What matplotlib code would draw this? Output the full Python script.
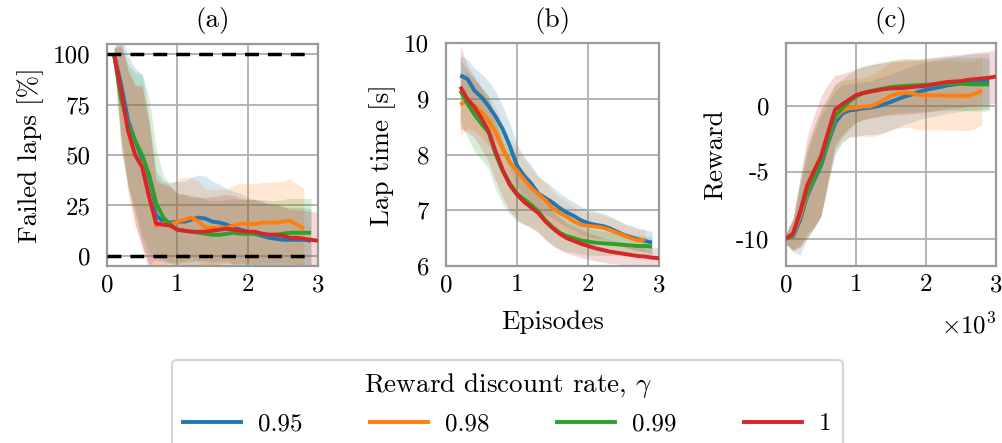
import numpy as np
import matplotlib
matplotlib.use("Agg")
import matplotlib.pyplot as plt
from matplotlib.lines import Line2D

plt.rcParams.update({
    "font.family": "cmr10",
    "mathtext.fontset": "cm",
    "axes.unicode_minus": False,
    "font.size": 18,
})

gammas = ["0.95", "0.98", "0.99", "1"]
colors = ["#1f77b4", "#ff7f0e", "#2ca02c", "#d62728"]

# ---- (a) failed laps [%] ----
fail_x = [np.round(np.arange(0.1, 3.0, 0.1), 1),
          np.round(np.arange(0.1, 2.9, 0.1), 1),
          np.round(np.arange(0.1, 3.0, 0.1), 1),
          np.round(np.arange(0.1, 3.05, 0.1), 1)]
fail_mean = [
    [100, 85, 67, 57, 48, 32, 20, 17, 16.5, 17, 17, 18, 19, 18.5, 17, 16.5, 15.5, 14, 13,
     12, 11, 10, 9, 8.5, 8, 8, 8, 8, 7.5],
    [100, 80, 62, 50, 45, 30, 15, 16, 15.5, 17, 18, 19, 17, 14, 14, 14, 14, 15, 16,
     16, 15.7, 16.5, 16.5, 16.5, 17, 17.5, 15.5, 13.5],
    [100, 78, 65, 57, 50, 40, 26, 19, 15.5, 13, 12.5, 12, 11.5, 11, 10.5, 10.5, 11, 11.5, 11,
     11, 11, 11, 10.5, 10.5, 11, 11.5, 11.5, 11.5, 11.5],
    [100, 82, 62, 50, 44, 29, 16, 15.5, 15, 13, 12.5, 12, 12, 12, 12.5, 13, 13.5, 13, 12.5,
     12, 12, 11, 10.5, 10.5, 10, 9, 9, 8.5, 8, 7.5],
]
fail_std = [
    [3, 25, 32, 36, 42, 36, 22, 20, 20, 20, 20, 21, 21, 21, 20, 19, 18, 18, 18,
     17, 17, 17, 17, 17, 16, 16, 16, 16, 16],
    [3, 24, 30, 35, 40, 35, 21, 20, 20, 21, 21, 20, 20, 19, 19, 19, 19, 20, 20,
     20, 20, 20, 20, 20, 20, 21, 20, 20],
    [3, 26, 30, 34, 40, 38, 27, 21, 19, 18, 18, 18, 18, 17, 17, 17, 17, 17, 17,
     17, 17, 17, 17, 17, 17, 17, 17, 17, 17],
    [3, 25, 30, 34, 40, 36, 22, 20, 19, 18, 18, 17, 17, 17, 17, 17, 17, 17, 16,
     16, 16, 16, 15, 15, 15, 14, 14, 14, 14, 14],
]

# ---- (b) lap time [s] ----
lap_x = [np.round(np.arange(0.2, 3.0, 0.1), 1),
         np.round(np.arange(0.2, 2.9, 0.1), 1),
         np.round(np.arange(0.2, 3.0, 0.1), 1),
         np.round(np.arange(0.2, 3.05, 0.1), 1)]
lap_mean = [
    [9.42, 9.36, 9.15, 9.03, 8.87, 8.68, 8.45, 8.15, 7.8, 7.62, 7.48, 7.3, 7.22, 7.14,
     7.04, 6.96, 6.9, 6.82, 6.77, 6.74, 6.72, 6.68, 6.62, 6.56, 6.52, 6.48, 6.45, 6.42],
    [8.9, 8.97, 8.88, 8.76, 8.61, 8.4, 8.1, 7.86, 7.71, 7.55, 7.4, 7.29, 7.18, 7.04,
     6.95, 6.88, 6.8, 6.74, 6.72, 6.71, 6.69, 6.65, 6.6, 6.55, 6.5, 6.46, 6.47],
    [9.15, 8.92, 8.72, 8.55, 8.4, 8.0, 7.7, 7.48, 7.3, 7.2, 7.1, 6.98, 6.82, 6.7,
     6.6, 6.54, 6.5, 6.46, 6.44, 6.42, 6.41, 6.4, 6.39, 6.38, 6.37, 6.36, 6.36, 6.35],
    [9.22, 9.0, 8.85, 8.65, 8.42, 8.05, 7.72, 7.45, 7.28, 7.15, 7.05, 6.95, 6.8, 6.68,
     6.58, 6.5, 6.45, 6.4, 6.36, 6.32, 6.29, 6.26, 6.24, 6.22, 6.2, 6.18, 6.17, 6.15, 6.14],
]
lap_std = [
    [0.35, 0.35, 0.4, 0.42, 0.45, 0.45, 0.42, 0.4, 0.38, 0.35, 0.33, 0.3, 0.3, 0.28,
     0.27, 0.26, 0.25, 0.25, 0.24, 0.24, 0.23, 0.22, 0.22, 0.21, 0.21, 0.2, 0.2, 0.2],
    [0.55, 0.5, 0.45, 0.45, 0.45, 0.45, 0.45, 0.42, 0.4, 0.37, 0.35, 0.33, 0.31, 0.3,
     0.28, 0.27, 0.26, 0.25, 0.24, 0.24, 0.23, 0.22, 0.22, 0.21, 0.21, 0.2, 0.2],
    [0.55, 0.6, 0.65, 0.65, 0.65, 0.62, 0.6, 0.55, 0.5, 0.45, 0.4, 0.37, 0.34, 0.32,
     0.3, 0.28, 0.26, 0.25, 0.24, 0.23, 0.22, 0.21, 0.2, 0.2, 0.19, 0.19, 0.18, 0.18],
    [0.75, 0.6, 0.55, 0.55, 0.55, 0.52, 0.5, 0.47, 0.44, 0.4, 0.37, 0.35, 0.33, 0.31,
     0.29, 0.27, 0.26, 0.25, 0.24, 0.23, 0.22, 0.21, 0.2, 0.2, 0.19, 0.19, 0.18, 0.18, 0.18],
]

# ---- (c) reward ----
rew_x = [np.round(np.arange(0.0, 3.0, 0.1), 1),
         np.round(np.arange(0.0, 2.9, 0.1), 1),
         np.round(np.arange(0.0, 3.0, 0.1), 1),
         np.round(np.arange(0.0, 3.05, 0.1), 1)]
rew_mean = [
    [-10, -9.8, -8.6, -6.8, -5.6, -4.5, -2.8, -1.3, -0.6, -0.35, -0.3, -0.2, -0.15, -0.05,
     0.1, 0.3, 0.5, 0.7, 0.85, 1.05, 1.2, 1.3, 1.4, 1.52, 1.6, 1.68, 1.75, 1.8, 1.82, 1.85],
    [-10, -9.7, -8.3, -6.6, -5.4, -4.2, -2.6, -0.9, -0.4, -0.2, -0.15, -0.08, -0.05, 0.15,
     0.45, 0.75, 0.9, 0.98, 0.92, 0.8, 0.78, 0.78, 0.78, 0.76, 0.75, 0.75, 0.72, 0.9, 1.15],
    [-10, -9.7, -8.0, -6.5, -5.4, -4.3, -2.6, -0.8, -0.2, 0.3, 0.7, 0.95, 1.1, 1.2,
     1.3, 1.4, 1.45, 1.5, 1.52, 1.55, 1.58, 1.6, 1.62, 1.65, 1.65, 1.65, 1.62, 1.6, 1.6, 1.6],
    [-10, -9.6, -8.0, -6.0, -4.9, -3.8, -2.0, -0.3, 0.1, 0.45, 0.8, 0.95, 1.05, 1.15,
     1.25, 1.3, 1.32, 1.35, 1.4, 1.45, 1.5, 1.6, 1.7, 1.78, 1.82, 1.85, 1.95, 2.0, 2.05, 2.1, 2.2],
]
rew_std = [
    [0.4, 1.2, 2.6, 3.2, 3.6, 3.8, 3.0, 2.4, 2.2, 2.0, 2.0, 2.0, 2.0, 2.1,
     2.1, 2.1, 2.1, 2.1, 2.1, 2.1, 2.1, 2.1, 2.1, 2.1, 2.1, 2.1, 2.1, 2.1, 2.1, 2.1],
    [0.4, 1.2, 2.4, 3.4, 3.8, 4.0, 3.2, 2.5, 2.3, 2.2, 2.2, 2.2, 2.3, 2.4,
     2.5, 2.6, 2.6, 2.6, 2.6, 2.6, 2.6, 2.6, 2.6, 2.6, 2.6, 2.6, 2.6, 2.6, 2.6],
    [0.4, 1.2, 2.5, 3.4, 3.8, 4.0, 3.2, 2.4, 2.2, 2.1, 2.0, 2.0, 2.0, 2.0,
     2.0, 2.0, 2.0, 2.0, 2.0, 2.0, 2.0, 2.0, 2.0, 2.0, 2.0, 2.0, 2.0, 2.0, 2.0, 2.0],
    [0.4, 1.2, 2.6, 3.6, 4.2, 4.5, 3.6, 2.6, 2.3, 2.1, 2.0, 2.0, 2.0, 2.0,
     2.0, 2.0, 2.0, 2.0, 2.0, 2.0, 2.0, 2.0, 2.0, 2.0, 2.0, 2.0, 2.0, 2.0, 2.0, 2.0, 2.0],
]

LABEL_SIZE = 19.5
TICK_SIZE = 18

fig = plt.figure(figsize=(10.03, 4.43), dpi=100)
ax_a = fig.add_axes([0.1067, 0.3995, 0.2104, 0.501])
ax_b = fig.add_axes([0.4447, 0.3995, 0.2124, 0.503])
ax_c = fig.add_axes([0.7837, 0.3995, 0.2094, 0.503])

panels = [
    (ax_a, fail_x, fail_mean, fail_std, "Failed laps [%]", "(a)"),
    (ax_b, lap_x, lap_mean, lap_std, "Lap time [s]", "(b)"),
    (ax_c, rew_x, rew_mean, rew_std, "Reward", "(c)"),
]

for ax, xs, means, stds, ylabel, title in panels:
    for x, m, s, c in zip(xs, means, stds, colors):
        m = np.asarray(m, float)
        s = np.asarray(s, float)
        ax.fill_between(x, m - s, m + s, color=c, alpha=0.18, linewidth=0)
    for x, m, c in zip(xs, means, colors):
        ax.plot(x, m, color=c, lw=2.8, solid_capstyle="butt", zorder=3)
    ax.set_xlim(0, 3)
    ax.set_xticks([0, 1, 2, 3])
    ax.grid(True, color="#b4b4b4", lw=1.4)
    ax.set_axisbelow(True)
    for sp in ax.spines.values():
        sp.set_color("#999999")
        sp.set_linewidth(1.6)
    ax.tick_params(length=0, labelsize=TICK_SIZE)
    ax.tick_params(axis="x", pad=6)
    ax.tick_params(axis="y", pad=12)
    ax.set_ylabel(ylabel, fontsize=LABEL_SIZE, labelpad=6)
    ax.set_title(title, fontsize=LABEL_SIZE, pad=12)

ax_a.hlines([0, 100], 0, 2.9, colors="black", linestyles=(0, (4, 2.6)), lw=2.5, zorder=4)
ax_a.set_ylim(-5, 105)
ax_a.set_yticks([0, 25, 50, 75, 100])

ax_b.set_ylim(6, 10)
ax_b.set_yticks([6, 7, 8, 9, 10])
ax_b.set_xlabel("Episodes", fontsize=LABEL_SIZE, labelpad=10)

ax_c.set_ylim(-12.05, 4.7)
ax_c.set_yticks([-10, -5, 0])
ax_c.text(1.0, -0.21, r"$\times10^3$", transform=ax_c.transAxes, ha="right", va="top",
          fontsize=TICK_SIZE)

handles = [Line2D([], [], color=c, lw=2.8) for c in colors]
leg = fig.legend(handles, gammas, loc="upper center", bbox_to_anchor=(0.506, 0.187), ncol=4,
                 title=r"Reward discount rate, $\gamma$", title_fontsize=19.5,
                 fontsize=TICK_SIZE, frameon=True, fancybox=True, edgecolor="#cccccc",
                 handlelength=2.3, columnspacing=2.7, handletextpad=0.7, borderpad=0.45,
                 borderaxespad=0)
leg.get_frame().set_linewidth(1.6)

fig.savefig("out.png", dpi=100)
